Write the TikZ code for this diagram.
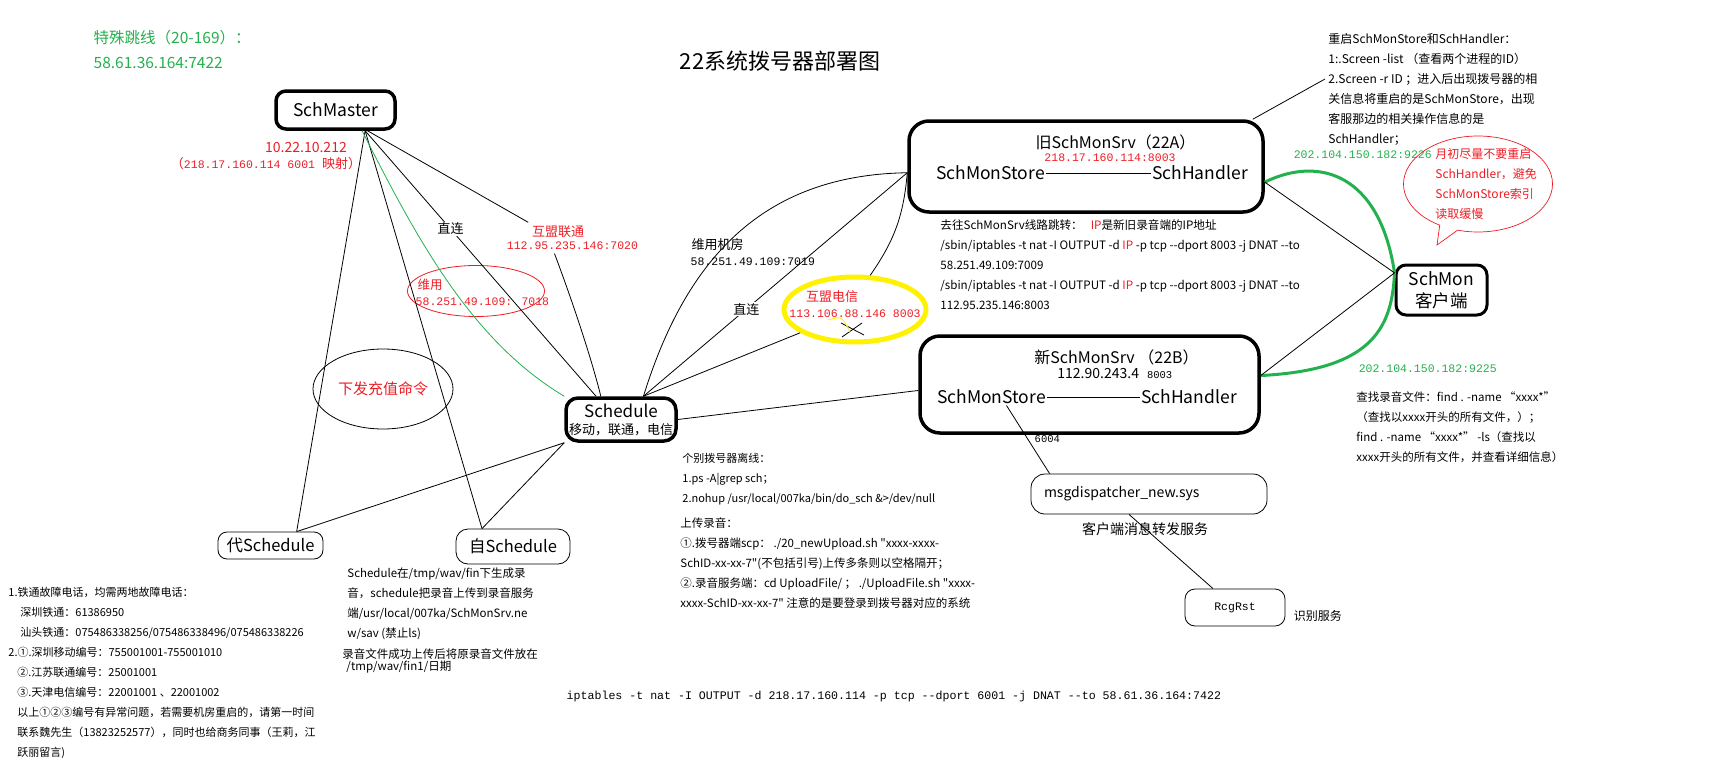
\documentclass[tikz,border=0pt]{standalone}
\usepackage{fontspec}
\setmainfont{Noto Sans CJK SC}[Ligatures=TeXOff]
\newfontfamily\monof{Liberation Mono}
\usetikzlibrary{positioning, shapes.geometric, shapes.callouts}
\definecolor{pgreen}{RGB}{34,177,76}
\definecolor{pred}{RGB}{237,28,36}
\definecolor{pyellow}{RGB}{255,242,0}
\newcommand{\txtsize}[2]{\fontsize{#1}{#2}\selectfont}

\begin{document}
\begin{tikzpicture}[x=1pt, y=-1pt, line width=0.8pt,
  every node/.style={font=\txtsize{17.5}{21}},
  srvbox/.style={draw, line width=3.5pt, rounded corners=12pt, inner sep=0pt},
  softbox/.style={draw, line width=0.8pt, rounded corners=9pt, inner sep=0pt},
  redtxt/.style={text=pred},
  monotxt/.style={font=\monof\txtsize{11.5}{14}},
  smalltxt/.style={font=\txtsize{11.5}{20}, align=left, anchor=west, inner sep=0pt},
  lbl/.style={fill=white, inner sep=1pt, font=\txtsize{13}{15}},
  gline/.style={draw=pgreen, line width=3pt}]

\useasboundingbox (0,0) rectangle (1736,776);

% heading
\node[text=pgreen, font=\txtsize{15.5}{18}, anchor=west] (jumpline) at (90,38) {特殊跳线（20-169）：};
\node[text=pgreen, font=\txtsize{15.5}{18}, anchor=west] (jumpaddr) at (90,63) {58.61.36.164:7422};
\node[font=\txtsize{22}{26}] (title) at (780,61) {22系统拨号器部署图};

% SchMaster
\node[srvbox, rounded corners=10pt, minimum width=119pt, minimum height=38pt] (master) at (335.5,110) {SchMaster};
\node[redtxt, font=\txtsize{14}{16}] (masterip) at (306,148) {10.22.10.212};
\node[redtxt, font=\txtsize{13}{15}] (mastermap) at (266,164) {（{\monof\txtsize{11.5}{15}218.17.160.114 6001 }映射）};

% labels on the left
\node[ellipse, draw=pred, minimum width=137pt, minimum height=51pt] (wyoval) at (476,291) {};
\node[redtxt, font=\txtsize{12.5}{15}, anchor=west] (wylabel) at (414,285) {维用};
\node[redtxt, monotxt, anchor=west] (wyaddr) at (412,302) {58.251.49.109: 7018};
\node[redtxt, font=\txtsize{13}{15}] (unicom) at (558,232) {互盟联通};
\node[redtxt, monotxt] (unicomaddr) at (572.5,246) {112.95.235.146:7020};
\node[ellipse, draw, minimum width=140pt, minimum height=80pt, text=pred, font=\txtsize{15}{18}] (recharge) at (383,389) {下发充值命令};

% Schedule nodes
\node[srvbox, minimum width=110pt, minimum height=43pt, align=center, font=\txtsize{17}{17}] (sched) at (621,419.5) {Schedule\\{\txtsize{13}{17}移动，联通，电信}};
\node[softbox, minimum width=105pt, minimum height=27pt, font=\txtsize{16.5}{20}] (daisched) at (270.5,545.5) {代Schedule};
\node[softbox, rounded corners=12pt, minimum width=114pt, minimum height=35pt, font=\txtsize{16.5}{20}] (zisched) at (513,546.5) {自Schedule};

% master links
\draw (master.-35) -- (daisched.28);
\draw (master.-35) -- (zisched.150);
\draw[pgreen] (master.-38) .. controls (415,235) and (470,340) .. (sched.north west);
\draw (master.-35) -- node[lbl, pos=0.37] (direct1) {直连} (sched.137);
\draw (master.-33) -- (unicom.north west);
\draw ([xshift=-18pt]unicomaddr.south) .. controls (572,300) and (592,360) .. (sched.131);
\draw (sched.south west) -- (daisched.28);
\draw (sched.south west) -- (zisched.150);

% servers
\node[srvbox, rounded corners=20pt, minimum width=354pt, minimum height=91pt] (oldsrv) at (1086,166.5) {};
\node[font=\txtsize{16}{19}] (oldname) at (1115.5,142) {旧SchMonSrv（22A）};
\node[redtxt, monotxt] (oldaddr) at (1110,158) {218.17.160.114:8003};
\node[inner sep=1pt] (oldstore) at (990.5,173) {SchMonStore};
\node[inner sep=1pt] (oldhandler) at (1200,173) {SchHandler};
\draw (oldstore) -- (oldhandler);

\node[srvbox, rounded corners=20pt, minimum width=339pt, minimum height=97pt] (newsrv) at (1089.5,384.5) {};
\node[font=\txtsize{16}{19}] (newname) at (1116.5,357) {新SchMonSrv （22B）};
\node[font=\txtsize{14}{17}, anchor=west, inner sep=0pt] (newaddr) at (1057,374) {112.90.243.4\hspace{8pt}{\monof\txtsize{10.5}{12}8003}};
\node[inner sep=1pt] (newstore) at (991.5,397) {SchMonStore};
\node[inner sep=1pt] (newhandler) at (1189,397) {SchHandler};
\draw (newstore) -- (newhandler);

\node[srvbox, line width=3pt, rounded corners=10pt, minimum width=91pt, minimum height=50pt, align=center, font=\txtsize{17.5}{22}] (schmon) at (1441.5,290) {SchMon\\客户端};

% dispatcher and recogniser
\node[softbox, rounded corners=14pt, minimum width=236pt, minimum height=40pt, text width=210pt, inner xsep=13pt, align=left, font=\txtsize{14}{17}] (msgd) at (1149,494) {msgdispatcher\_new.sys};
\node[font=\txtsize{14}{17}] (msgdname) at (1145,529) {客户端消息转发服务};
\node[softbox, rounded corners=10pt, minimum width=100pt, minimum height=37pt, monotxt] (rcg) at (1235,607.5) {RcgRst};
\node[font=\txtsize{12}{15}, anchor=west] (rcgname) at (1290,616) {识别服务};
\node[font=\monof\txtsize{10.5}{12}, anchor=west] (port) at (1031,439) {6004};
\draw ([xshift=15pt]newstore.south) -- ([xshift=19pt]msgd.north west);
\draw ([xshift=-20pt]msgd.south) -- ([xshift=-22pt]rcg.north);

% telecom route
\node[ellipse, draw=pyellow, line width=5pt, minimum width=142pt, minimum height=65pt] (telecom) at (855,309.5) {};
\node[redtxt, font=\txtsize{13}{15}] (telecomname) at (832,297) {互盟电信};
\node[redtxt, monotxt] (telecomaddr) at (855,314) {113.106.88.146 8003};
\draw (841,323) -- (864,335);
\draw (862,323) -- (842,337);
\draw[pyellow] (828,320) .. controls (842,316) .. (850,332);

\node[font=\txtsize{13}{15}, anchor=west] (wyroom) at (688,245) {维用机房};
\node[monotxt, anchor=west] (wyroomaddr) at (687,262) {58.251.49.109:7019};

% schedule links
\draw (sched.46) .. controls (685,262) and (760,175) .. (oldsrv.182);
\draw (sched.46) -- node[lbl, pos=0.39] (direct2) {直连} (oldsrv.182);
\draw (sched.46) -- (telecom.203);
\draw (telecom.66) to[bend right=15] (oldsrv.182);
\draw (sched.east) -- (newsrv.182);

% client links
\draw[gline] (oldsrv.-5) .. controls (1320,155) and (1380,175) .. (schmon.160) .. controls (1392,330) and (1370,370) .. (newsrv.3);
\draw (oldsrv.-5) -- (schmon.160);
\draw (newsrv.3) -- (schmon.160);
\node[text=pgreen, monotxt, anchor=west] (linkold) at (1290,155) {202.104.150.182:9226};
\node[text=pgreen, monotxt, anchor=west] (linknew) at (1355,369) {202.104.150.182:9225};

% callout
\node[ellipse callout, draw=pred, line width=0.7pt, minimum width=149pt, minimum height=96pt, callout absolute pointer={(1437,245)}] (tipoval) at (1478,184) {};
\node[smalltxt, text=pred, font=\txtsize{12}{20}] (tip) at (1435,184) {月初尽量不要重启\\SchHandler，避免\\SchMonStore索引\\读取缓慢};

% notes
\node[smalltxt, font=\txtsize{12}{20}] (restart) at (1328,89) {重启SchMonStore和SchHandler：\\1:.Screen -list （查看两个进程的ID）\\2.Screen -r ID ；进入后出现拨号器的相\\关信息将重启的是SchMonStore，出现\\客服那边的相关操作信息的是\\SchHandler；};
\draw ([xshift=-12pt]oldsrv.north east) -- ([xshift=-3pt, yshift=10pt]restart.west);

\node[smalltxt, font=\txtsize{11.6}{20}] (jumpcmd) at (940,264.5) {去往SchMonSrv线路跳转：\hspace{8pt}{\color{pred}IP}是新旧录音端的IP地址\\/sbin/iptables -t nat -I OUTPUT -d {\color{pred}IP} -p tcp --dport 8003 -j DNAT --to\\58.251.49.109:7009\\/sbin/iptables -t nat -I OUTPUT -d {\color{pred}IP} -p tcp --dport 8003 -j DNAT --to\\112.95.235.146:8003};

\node[smalltxt, font=\txtsize{11}{20}] (offline) at (682,479) {个别拨号器离线：\\1.ps -A|grep sch；\\2.nohup /usr/local/007ka/bin/do\_sch \&>/dev/null};
\node[smalltxt] (upload) at (680,563) {上传录音：\\①.拨号器端scp： ./20\_newUpload.sh "xxxx-xxxx-\\SchID-xx-xx-7"(不包括引号)上传多条则以空格隔开；\\②.录音服务端：cd UploadFile/ ； ./UploadFile.sh "xxxx-\\xxxx-SchID-xx-xx-7" 注意的是要登录到拨号器对应的系统};

\node[smalltxt] (recgen) at (347,604) {Schedule在/tmp/wav/fin下生成录\\音，schedule把录音上传到录音服务\\端/usr/local/007ka/SchMonSrv.ne\\w/sav (禁止ls)};
\node[smalltxt, font=\txtsize{11.5}{12.5}] (recmove) at (342,661) {录音文件成功上传后将原录音文件放在\\\hspace*{4pt}/tmp/wav/fin1/日期};

\node[smalltxt, font=\txtsize{11}{20}] (hotline) at (8,673) {1.铁通故障电话，均需两地故障电话：\\
\hspace*{12pt}深圳铁通：61386950\\
\hspace*{12pt}汕头铁通：075486338256/075486338496/075486338226\\
2.①.深圳移动编号：755001001-755001010\\
\hspace*{9pt}②.江苏联通编号：25001001\\
\hspace*{9pt}③.天津电信编号：22001001 、22001002\\
\hspace*{9pt}以上①②③编号有异常问题，若需要机房重启的，请第一时间\\
\hspace*{9pt}联系魏先生（13823252577），同时也给商务同事（王莉，江\\
\hspace*{9pt}跃丽留言)};

\node[smalltxt] (findcmd) at (1356,427) {查找录音文件：find . -name “xxxx*”\\（查找以xxxx开头的所有文件，）；\\find . -name “xxxx*” -ls（查找以\\xxxx开头的所有文件，并查看详细信息）};

\node[font=\monof\txtsize{11.6}{14}, anchor=west] (natcmd) at (563,696) {iptables -t nat -I OUTPUT -d 218.17.160.114 -p tcp --dport 6001 -j DNAT --to 58.61.36.164:7422};
\end{tikzpicture}
\end{document}
